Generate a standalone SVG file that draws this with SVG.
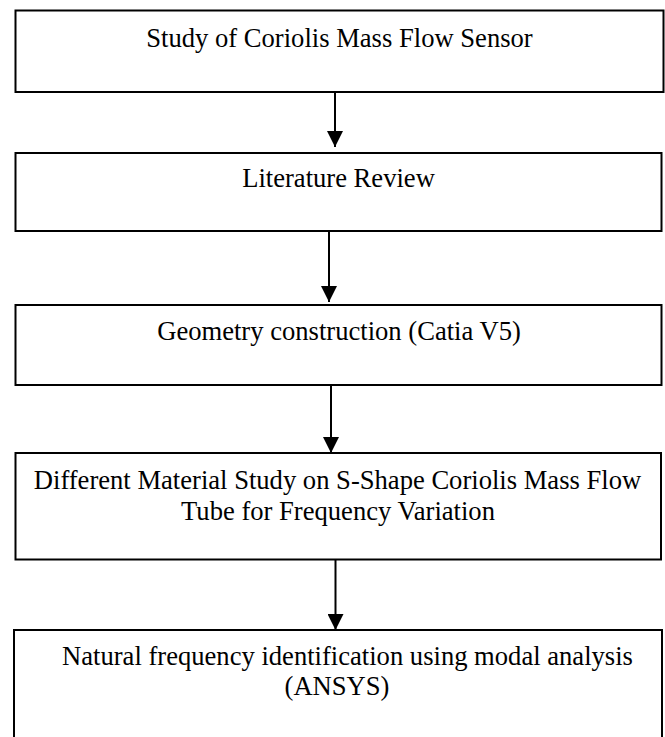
<svg xmlns="http://www.w3.org/2000/svg" width="665" height="737" viewBox="0 0 665 737">
<defs>
<style>
.box{fill:#fff;stroke:#000;stroke-width:2}
.lbl{font-family:"Liberation Serif","Times New Roman",serif;font-size:26.6px;fill:#000;text-anchor:middle}
.conn{stroke:#000;stroke-width:2;fill:none}
</style>
<marker id="ah" markerUnits="userSpaceOnUse" markerWidth="16" markerHeight="16" viewBox="0 0 15 15" refX="15" refY="7.5" orient="auto">
<path d="M0,0 L15,7.5 L0,15 Z" fill="#000"/>
</marker>
</defs>
<rect width="665" height="737" fill="#fff"/>
<g id="node1">
<rect class="box" x="15.5" y="10.5" width="648" height="81.5"/>
<text class="lbl" x="339.5" y="47">Study of Coriolis Mass Flow Sensor</text>
</g>
<g id="node2">
<rect class="box" x="15.5" y="153" width="646" height="78"/>
<text class="lbl" x="338.5" y="187">Literature Review</text>
</g>
<g id="node3">
<rect class="box" x="15.5" y="305" width="646" height="80"/>
<text class="lbl" x="339" y="340">Geometry construction (Catia V5)</text>
</g>
<g id="node4">
<rect class="box" x="15.5" y="453" width="645.5" height="106.5"/>
<text class="lbl" x="337.5" y="489">Different Material Study on S-Shape Coriolis Mass Flow</text>
<text class="lbl" x="338" y="520">Tube for Frequency Variation</text>
</g>
<g id="node5">
<rect class="box" x="14" y="630" width="648" height="120"/>
<text class="lbl" x="347.5" y="665">Natural frequency identification using modal analysis</text>
<text class="lbl" x="337" y="695">(ANSYS)</text>
</g>
<g id="connectors">
<line class="conn" x1="335" y1="92" x2="335" y2="147" marker-end="url(#ah)"/>
<line class="conn" x1="329" y1="231" x2="329" y2="302" marker-end="url(#ah)"/>
<line class="conn" x1="331" y1="385" x2="331" y2="453" marker-end="url(#ah)"/>
<line class="conn" x1="335.5" y1="559.5" x2="335.5" y2="630" marker-end="url(#ah)"/>
</g>
</svg>
